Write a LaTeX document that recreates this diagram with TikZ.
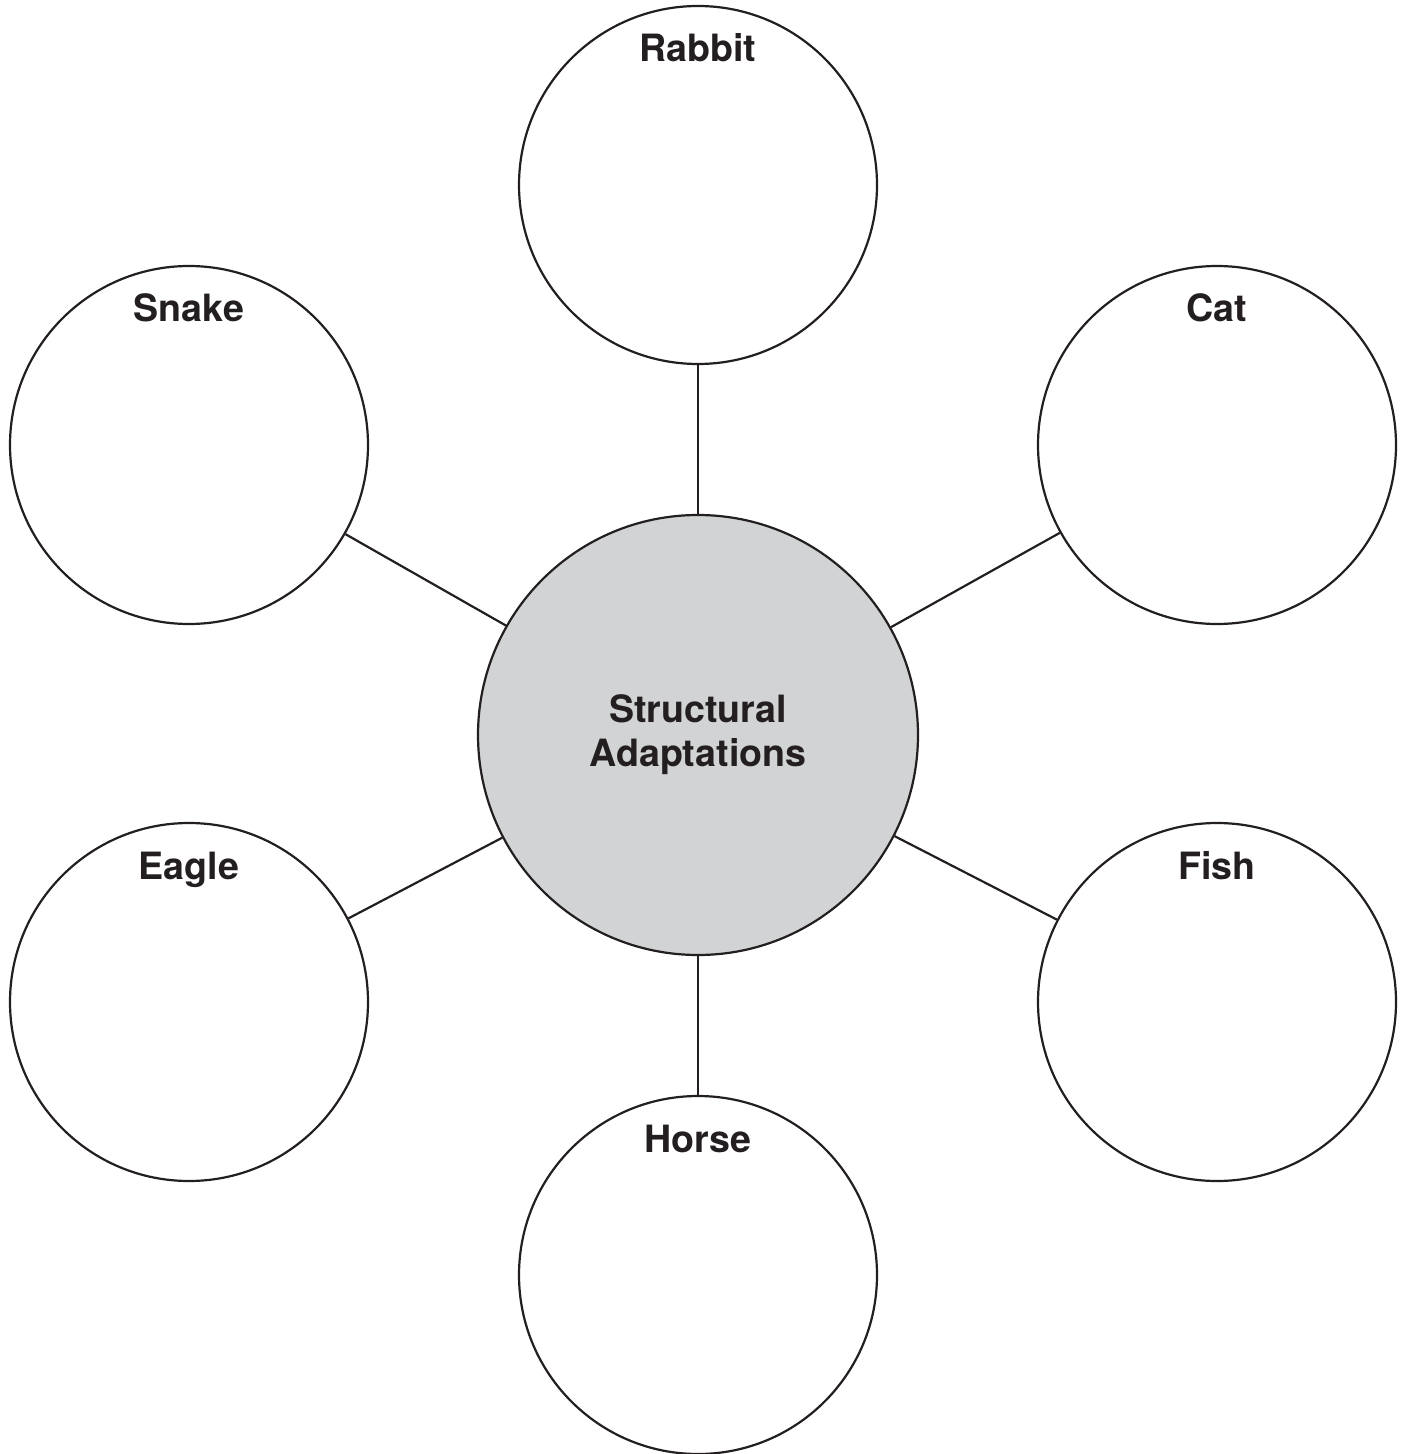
\documentclass[tikz,border=0pt]{standalone}
\usepackage{fontspec}
\setmainfont{TeX Gyre Heros}
\usepackage{tikz}
\usetikzlibrary{positioning}

\definecolor{hubgray}{HTML}{D1D3D4}
\definecolor{inkdark}{HTML}{231F20}

\begin{document}
\begin{tikzpicture}[
  x=0.5pt, y=-0.5pt,
  animal/.style={circle, draw=inkdark, line width=1.1pt, fill=white,
                 minimum size=179pt, inner sep=0pt},
  hub/.style={circle, draw=inkdark, line width=1.1pt, fill=hubgray,
              minimum size=220pt, inner sep=0pt, align=center,
              font=\fontsize{18.8}{22}\selectfont\bfseries, text=inkdark},
  tag/.style={anchor=base, font=\fontsize{18.8}{22}\selectfont\bfseries, text=inkdark},
  spoke/.style={draw=inkdark, line width=1.1pt}
]
  \useasboundingbox (0,0) rectangle (1408,1454);

  \node[hub] (adapt) at (698,735) {Structural\\Adaptations};

  \node[animal] (rabbit) at (698,185) {};
  \node[animal] (snake) at (189,445) {};
  \node[animal] (cat) at (1217,445) {};
  \node[animal] (eagle) at (189,1002) {};
  \node[animal] (fish) at (1217,1002) {};
  \node[animal] (horse) at (698,1275) {};

  \node[tag] (rabbitlbl) at ([yshift=61.5pt]rabbit.center) {Rabbit};
  \node[tag] (snakelbl) at ([yshift=61.5pt]snake.center) {Snake};
  \node[tag] (catlbl) at ([yshift=61.5pt]cat.center) {Cat};
  \node[tag] (eaglelbl) at ([yshift=61.5pt]eagle.center) {Eagle};
  \node[tag] (fishlbl) at ([yshift=61.5pt]fish.center) {Fish};
  \node[tag] (horselbl) at ([yshift=61.5pt]horse.center) {Horse};

  \foreach \spot in {rabbit,snake,cat,eagle,fish,horse}
    \draw[spoke] (adapt) -- (\spot);
\end{tikzpicture}
\end{document}
